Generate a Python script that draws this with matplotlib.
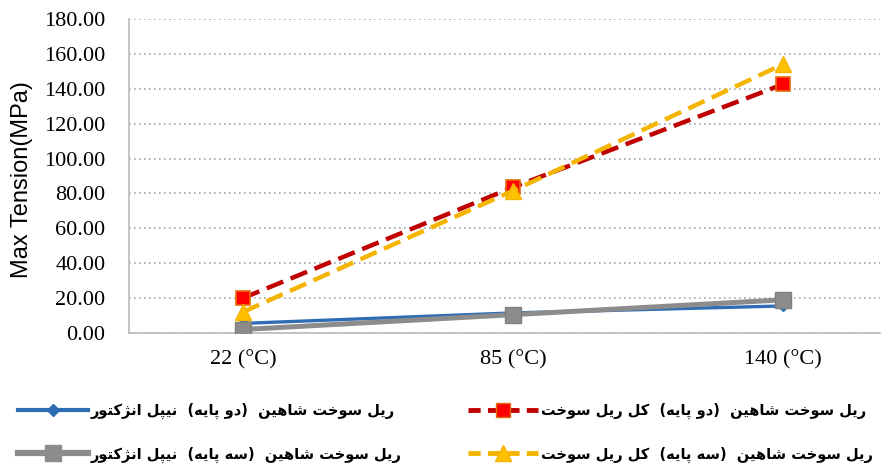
import numpy as np
import matplotlib
matplotlib.use("Agg")
import matplotlib.pyplot as plt
from matplotlib.lines import Line2D

# دما و بیشینه تنش (MPa)
temps = ["22 (°C)", "85 (°C)", "140 (°C)"]
nipple_two = [5.5, 11.5, 15.5]
nipple_three = [2.0, 10.5, 19.0]
rail_two = [20.0, 83.5, 142.5]
rail_three = [12.0, 81.5, 154.0]

labels = [
    "ریل سوخت شاهین  (دو پایه)  نیپل انژکتور",
    "ریل سوخت شاهین  (سه پایه)  نیپل انژکتور",
    "ریل سوخت شاهین  (دو پایه)  کل ریل سوخت",
    "ریل سوخت شاهین  (سه پایه)  کل ریل سوخت",
]

# فرم‌های نمایشی حروف: (تنها، پایانی، آغازی، میانی)
DUAL = {
    "ت": (0xFE95, 0xFE96, 0xFE97, 0xFE98),
    "خ": (0xFEA5, 0xFEA6, 0xFEA7, 0xFEA8),
    "س": (0xFEB1, 0xFEB2, 0xFEB3, 0xFEB4),
    "ش": (0xFEB5, 0xFEB6, 0xFEB7, 0xFEB8),
    "ل": (0xFEDD, 0xFEDE, 0xFEDF, 0xFEE0),
    "ن": (0xFEE5, 0xFEE6, 0xFEE7, 0xFEE8),
    "ه": (0xFEE9, 0xFEEA, 0xFEEB, 0xFEEC),
    "پ": (0xFB56, 0xFB57, 0xFB58, 0xFB59),
    "ک": (0xFB8E, 0xFB8F, 0xFB90, 0xFB91),
    "ی": (0xFBFC, 0xFBFD, 0xFBFE, 0xFBFF),
}
RIGHT = {
    "ا": (0xFE8D, 0xFE8E),
    "د": (0xFEA9, 0xFEAA),
    "ر": (0xFEAD, 0xFEAE),
    "ژ": (0xFB8A, 0xFB8B),
    "و": (0xFEED, 0xFEEE),
}


def farsi(text):
    out = []
    for i, ch in enumerate(text):
        prev = text[i - 1] if i > 0 else ""
        nxt = text[i + 1] if i + 1 < len(text) else ""
        jp = prev in DUAL
        if ch in DUAL:
            jn = nxt in DUAL or nxt in RIGHT
            f = DUAL[ch]
            code = f[3] if (jp and jn) else f[1] if jp else f[2] if jn else f[0]
            out.append(chr(code))
        elif ch in RIGHT:
            out.append(chr(RIGHT[ch][1] if jp else RIGHT[ch][0]))
        else:
            out.append(ch)
    mirror = {"(": ")", ")": "("}
    return "".join(mirror.get(c, c) for c in reversed(out))


fig = plt.figure(figsize=(8.96, 4.70), dpi=100)
ax = fig.add_axes([0.144, 0.2915, 0.838, 0.668])

x = np.arange(len(temps))
ax.plot(x, nipple_two, color="#2E6DB4", lw=2.4, marker="D", ms=5,
        mfc="#2E6DB4", mec="#2E6DB4", zorder=3)
ax.plot(x, nipple_three, color="#8C8C8C", lw=3.6, marker="s", ms=11,
        mfc="#8C8C8C", mec="#7F7F7F", zorder=4)
ax.plot(x, rail_two, color="#C00000", lw=3.2, ls=(0, (4, 1.8)), marker="s",
        ms=10, mfc="#FF0000", mec="#E46C0A", mew=1.2, zorder=5)
ax.plot(x, rail_three, color="#F5B400", lw=3.2, ls=(0, (4, 1.8)), marker="^",
        ms=12, mfc="#FFC000", mec="#F5B400", zorder=6)

ax.set_xlim(-0.422, 2.36)
ax.set_ylim(0, 180)
ax.set_yticks(np.arange(0, 181, 20))
ax.set_yticklabels([f"{v:.2f}" for v in range(0, 181, 20)])
ax.set_xticks(x)
ax.set_xticklabels(temps)
ax.tick_params(length=0, labelsize=16)
ax.tick_params(axis="y", pad=17)
ax.tick_params(axis="x", pad=12)
for t in ax.get_xticklabels() + ax.get_yticklabels():
    t.set_fontfamily("Liberation Serif")

ax.grid(axis="y", color="#A6A6A6", ls=(0, (1, 2)), lw=1.2)
ax.set_axisbelow(True)
for s in ["top", "right"]:
    ax.spines[s].set_visible(False)
for s in ["left", "bottom"]:
    ax.spines[s].set_color("#BFBFBF")
    ax.spines[s].set_linewidth(1.3)

ax.set_ylabel("Max Tension(MPa)", fontfamily="Liberation Sans", fontsize=17)
ax.yaxis.set_label_coords(-0.128, 0.49)

handles = [
    Line2D([], [], color="#2E6DB4", lw=3, marker="D", ms=6),
    Line2D([], [], color="#8C8C8C", lw=4.5, marker="s", ms=11),
    Line2D([], [], color="#C00000", lw=3.5, ls=(0, (2.5, 1.5)), marker="s",
           ms=10, mfc="#FF0000", mec="#E46C0A"),
    Line2D([], [], color="#F5B400", lw=3.5, ls=(0, (2.5, 1.5)), marker="^",
           ms=11, mfc="#FFC000", mec="#F5B400"),
]
fig.legend(handles, [farsi(s) for s in labels], ncol=2, frameon=False,
           loc="lower left", bbox_to_anchor=(0.005, -0.012), handlelength=4.8,
           columnspacing=4.6, labelspacing=1.85, handletextpad=0.2,
           prop={"family": "DejaVu Sans", "size": 10.5, "weight": "bold"})

fig.savefig("out.png", dpi=100)
